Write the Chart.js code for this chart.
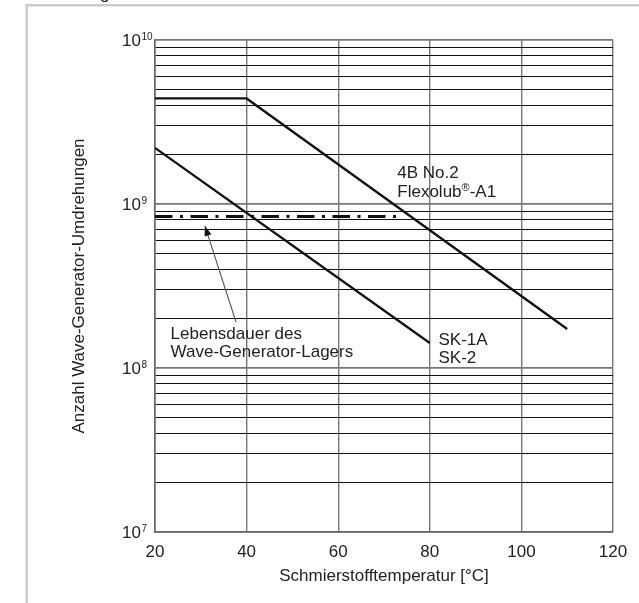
<!DOCTYPE html>
<html>
<head>
<meta charset="utf-8">
<script src="https://cdn.jsdelivr.net/npm/chart.js@4.4.1/dist/chart.umd.min.js"></script>
<style>
  html, body { margin: 0; padding: 0; background: #fff; }
</style>
</head>
<body>
<canvas id="myChart" width="639" height="603"></canvas>
<script>
// axis ticks
var xTicks = [20, 40, 60, 80, 100, 120];
var yDecades = [1e7, 1e8, 1e9, 1e10];
var yExponents = ['7', '8', '9', '10'];
var yMinorSteps = [2, 3, 4, 5, 6, 7, 8, 9];

// 4B No.2 / Flexolub-A1
var temp4B = [20, 40, 110];
var rev4B = [4.4e9, 4.4e9, 1.73e8];
// SK-1A / SK-2
var tempSK = [20, 80];
var revSK = [2.2e9, 1.42e8];
// Lebensdauer des Wave-Generator-Lagers
var tempLager = [20, 74];
var revLager = [8.4e8, 8.4e8];

var FONT = "'Liberation Sans', Arial, sans-serif";

function points(xs, ys) {
  return xs.map(function (x, i) { return { x: x, y: ys[i] }; });
}

var yTickValues = [];
yDecades.forEach(function (d, i) {
  yTickValues.push(d);
  if (i < yDecades.length - 1) {
    yMinorSteps.forEach(function (s) { yTickValues.push(d * s); });
  }
});

function isDecade(v) {
  var l = Math.log10(v);
  return Math.abs(l - Math.round(l)) < 1e-6;
}

var decoPlugin = {
  id: 'deco',
  beforeDraw: function (chart) {
    var ctx = chart.ctx;
    ctx.save();
    ctx.fillStyle = '#fff';
    ctx.fillRect(0, 0, chart.width, chart.height);
    ctx.strokeStyle = '#cccccc';
    ctx.lineWidth = 2.5;
    ctx.beginPath();
    ctx.moveTo(26.7, 603);
    ctx.lineTo(26.7, 5.3);
    ctx.lineTo(639, 5.3);
    ctx.stroke();
    ctx.fillStyle = '#222';
    ctx.font = '17px ' + FONT;
    ctx.textBaseline = 'alphabetic';
    ctx.fillText('g', 100, -1);
    ctx.restore();
  },
  afterDraw: function (chart) {
    var ctx = chart.ctx;
    var xs = chart.scales.x, ys = chart.scales.y;
    function px(x, y) { return [xs.getPixelForValue(x), ys.getPixelForValue(y)]; }
    ctx.save();
    ctx.fillStyle = '#222';

    // y tick labels with exponent
    yDecades.forEach(function (d, i) {
      var y = ys.getPixelForValue(d);
      ctx.font = '17px ' + FONT;
      ctx.textAlign = 'left';
      ctx.textBaseline = 'middle';
      ctx.fillText('10', 122, y + 1);
      var w = ctx.measureText('10').width;
      ctx.font = '10px ' + FONT;
      ctx.textBaseline = 'alphabetic';
      ctx.fillText(yExponents[i], 122 + w + 0.5, y - 0.5);
    });

    // arrow
    var a = px(37.7, 1.9e8), b = px(30.9, 7.35e8);
    ctx.strokeStyle = '#555';
    ctx.lineWidth = 1.1;
    ctx.beginPath();
    ctx.moveTo(a[0], a[1]);
    ctx.lineTo(b[0], b[1]);
    ctx.stroke();
    var ang = Math.atan2(b[1] - a[1], b[0] - a[0]);
    var hl = 10, hw = 3.6;
    ctx.fillStyle = '#111';
    ctx.beginPath();
    ctx.moveTo(b[0], b[1]);
    ctx.lineTo(b[0] - hl * Math.cos(ang) + hw * Math.sin(ang), b[1] - hl * Math.sin(ang) - hw * Math.cos(ang));
    ctx.lineTo(b[0] - hl * Math.cos(ang) - hw * Math.sin(ang), b[1] - hl * Math.sin(ang) + hw * Math.cos(ang));
    ctx.closePath();
    ctx.fill();

    // labels
    ctx.fillStyle = '#222';
    ctx.font = '17px ' + FONT;
    ctx.textAlign = 'left';
    ctx.textBaseline = 'alphabetic';
    var p = px(23.4, 1.5e8);
    ctx.fillText('Lebensdauer des', p[0], p[1]);
    ctx.fillText('Wave-Generator-Lagers', p[0], p[1] + 18);

    p = px(81.9, 1.38e8);
    ctx.fillText('SK-1A', p[0], p[1]);
    ctx.fillText('SK-2', p[0], p[1] + 18);

    p = px(72.9, 1.435e9);
    ctx.fillText('4B No.2', p[0], p[1]);
    var y2 = p[1] + 19;
    ctx.fillText('Flexolub', p[0], y2);
    var w1 = ctx.measureText('Flexolub').width;
    ctx.font = '11px ' + FONT;
    ctx.fillText('\u00AE', p[0] + w1, y2 - 6);
    var w2 = ctx.measureText('\u00AE').width;
    ctx.font = '17px ' + FONT;
    ctx.fillText('-A1', p[0] + w1 + w2, y2);
    ctx.restore();
  }
};

function renderChart() {
  var ctx = document.getElementById('myChart').getContext('2d');
  new Chart(ctx, {
    type: 'line',
    data: {
      datasets: [{
        label: '4B No.2 Flexolub-A1',
        data: points(temp4B, rev4B),
        borderColor: '#111',
        borderWidth: 2.3,
        pointRadius: 0,
        fill: false,
        tension: 0
      }, {
        label: 'SK-1A SK-2',
        data: points(tempSK, revSK),
        borderColor: '#111',
        borderWidth: 2.3,
        pointRadius: 0,
        fill: false,
        tension: 0
      }, {
        label: 'Lebensdauer des Wave-Generator-Lagers',
        data: points(tempLager, revLager),
        borderColor: '#111',
        borderWidth: 3,
        borderDash: [17.5, 7.5, 3, 7.5],
        borderCapStyle: 'butt',
        pointRadius: 0,
        fill: false,
        tension: 0
      }]
    },
    options: {
      responsive: false,
      animation: false,
      layout: { padding: { top: 40, right: 26, bottom: 0, left: 0 } },
      plugins: {
        legend: { display: false },
        tooltip: { enabled: false }
      },
      scales: {
        x: {
          type: 'linear',
          min: 20,
          max: 120,
          afterBuildTicks: function (scale) {
            scale.ticks = xTicks.map(function (v) { return { value: v }; });
          },
          afterFit: function (scale) {
            scale.height = 71;
            scale.paddingLeft = 0;
            scale.paddingRight = 0;
          },
          grid: {
            color: '#777',
            lineWidth: 1.4,
            drawTicks: false
          },
          border: { color: '#666', width: 1.6 },
          ticks: {
            autoSkip: false,
            maxRotation: 0,
            padding: 10,
            color: '#222',
            font: { family: FONT, size: 17 }
          },
          title: {
            display: true,
            text: 'Schmierstofftemperatur [°C]',
            color: '#222',
            font: { family: FONT, size: 17 },
            padding: { top: 0, bottom: 16 }
          }
        },
        y: {
          type: 'logarithmic',
          min: 1e7,
          max: 1e10,
          afterBuildTicks: function (scale) {
            scale.ticks = yTickValues.map(function (v) { return { value: v, major: isDecade(v) }; });
          },
          afterFit: function (scale) {
            scale.width = 155;
            scale.paddingTop = 0;
            scale.paddingBottom = 0;
          },
          grid: {
            drawTicks: false,
            color: function (c) { return c.tick && isDecade(c.tick.value) ? '#777' : '#111'; },
            lineWidth: function (c) { return c.tick && isDecade(c.tick.value) ? 1.8 : 1.1; }
          },
          border: { color: '#666', width: 1.6 },
          ticks: { display: false, autoSkip: false },
          title: {
            display: true,
            text: 'Anzahl Wave-Generator-Umdrehungen',
            color: '#222',
            font: { family: FONT, size: 17 },
            padding: { top: 69, bottom: 0 }
          }
        }
      }
    },
    plugins: [decoPlugin]
  });
}

renderChart();
</script>
</body>
</html>
